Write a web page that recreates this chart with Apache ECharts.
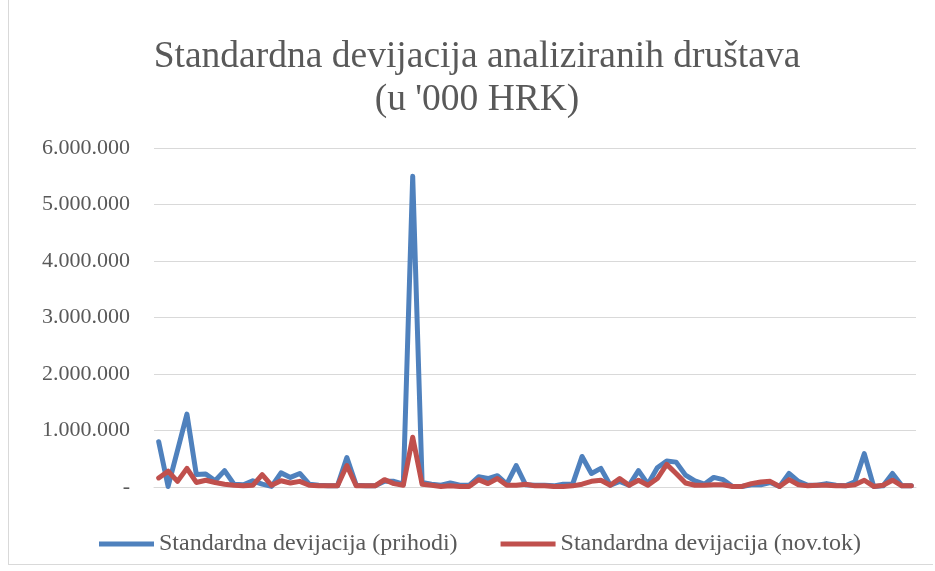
<!DOCTYPE html>
<html>
<head>
<meta charset="utf-8">
<script src="https://cdn.jsdelivr.net/npm/echarts@6/dist/echarts.min.js"></script>
<style>
  html, body { margin: 0; padding: 0; background: #fff; }
  #chart { position: absolute; left: 8px; top: 0; width: 925px; height: 565px; border-left: 1px solid #d9d9d9; border-bottom: 1px solid #d9d9d9; box-sizing: border-box; }
</style>
</head>
<body>
<div id="chart"></div>
<script>
const titleLines = ['Standardna devijacija analiziranih društava', "(u '000 HRK)"]
const seriesNames = ['Standardna devijacija (prihodi)', 'Standardna devijacija (nov.tok)']

// 81 companies, values in '000 HRK
const prihodi = [
  800000, 10000, 650000, 1290000, 220000, 230000, 110000, 290000, 50000, 40000,
  110000, 50000, 10000, 250000, 170000, 240000, 50000, 30000, 20000, 20000,
  520000, 30000, 20000, 20000, 100000, 100000, 50000, 5500000, 80000, 50000,
  30000, 70000, 30000, 30000, 180000, 150000, 200000, 50000, 380000, 40000,
  30000, 30000, 20000, 50000, 50000, 540000, 240000, 330000, 30000, 100000,
  30000, 290000, 50000, 340000, 460000, 440000, 210000, 110000, 50000, 170000,
  130000, 10000, 10000, 40000, 40000, 80000, 10000, 240000, 100000, 30000,
  30000, 60000, 30000, 20000, 90000, 590000, 10000, 20000, 240000, 20000,
  20000
]
const novTok = [
  160000, 280000, 100000, 330000, 80000, 120000, 80000, 50000, 30000, 20000,
  30000, 220000, 30000, 110000, 70000, 100000, 30000, 20000, 20000, 20000,
  380000, 20000, 20000, 20000, 130000, 60000, 30000, 880000, 50000, 30000,
  10000, 20000, 10000, 10000, 130000, 60000, 150000, 30000, 30000, 50000,
  20000, 20000, 10000, 10000, 20000, 50000, 100000, 120000, 30000, 150000,
  30000, 120000, 30000, 150000, 400000, 240000, 70000, 30000, 30000, 40000,
  40000, 10000, 10000, 60000, 90000, 100000, 10000, 130000, 40000, 20000,
  30000, 30000, 20000, 20000, 40000, 120000, 10000, 30000, 120000, 20000,
  20000
]
const categories = prihodi.map((_, i) => String(i + 1))

function fmtTick(v) {
  if (v === 0) return '-'
  return String(v).replace(/\B(?=(\d{3})+(?!\d))/g, '.')
}

const chart = echarts.init(document.getElementById('chart'))

const seriesBase = {
  type: 'line',
  symbol: 'none',
  smooth: false,
  lineStyle: { width: 5, cap: 'round', join: 'round' },
}

chart.setOption({
  animation: false,
  title: {
    text: titleLines.join('\n'),
    left: 463,
    textAlign: 'center',
    top: 31,
    textStyle: {
      fontFamily: 'Liberation Serif',
      fontWeight: 'normal',
      fontSize: 37.5,
      lineHeight: 43,
      color: '#595959',
    },
  },
  legend: {
    top: 527,
    left: 85,
    icon: 'rect',
    itemWidth: 55,
    itemHeight: 5,
    itemGap: 43,
    textStyle: { fontFamily: 'Liberation Serif', fontSize: 24, color: '#595959' },
    data: seriesNames,
  },
  grid: { left: 145, right: 17, top: 148, bottom: 77 },
  xAxis: {
    type: 'category',
    data: categories,
    boundaryGap: true,
    axisLine: { show: true, lineStyle: { color: '#d9d9d9', width: 1 } },
    axisTick: { show: false },
    axisLabel: { show: false },
  },
  yAxis: {
    type: 'value',
    min: 0,
    max: 6000000,
    interval: 1000000,
    axisLine: { show: false },
    axisTick: { show: false },
    axisLabel: {
      formatter: fmtTick,
      fontFamily: 'Liberation Serif',
      fontSize: 22,
      color: '#595959',
      margin: 24,
    },
    splitLine: { lineStyle: { color: '#d9d9d9', width: 1 } },
  },
  series: [
    { ...seriesBase, name: seriesNames[0], data: prihodi, color: '#4F81BD', z: 2 },
    { ...seriesBase, name: seriesNames[1], data: novTok, color: '#C0504D', z: 3 },
  ],
})
</script>
</body>
</html>
